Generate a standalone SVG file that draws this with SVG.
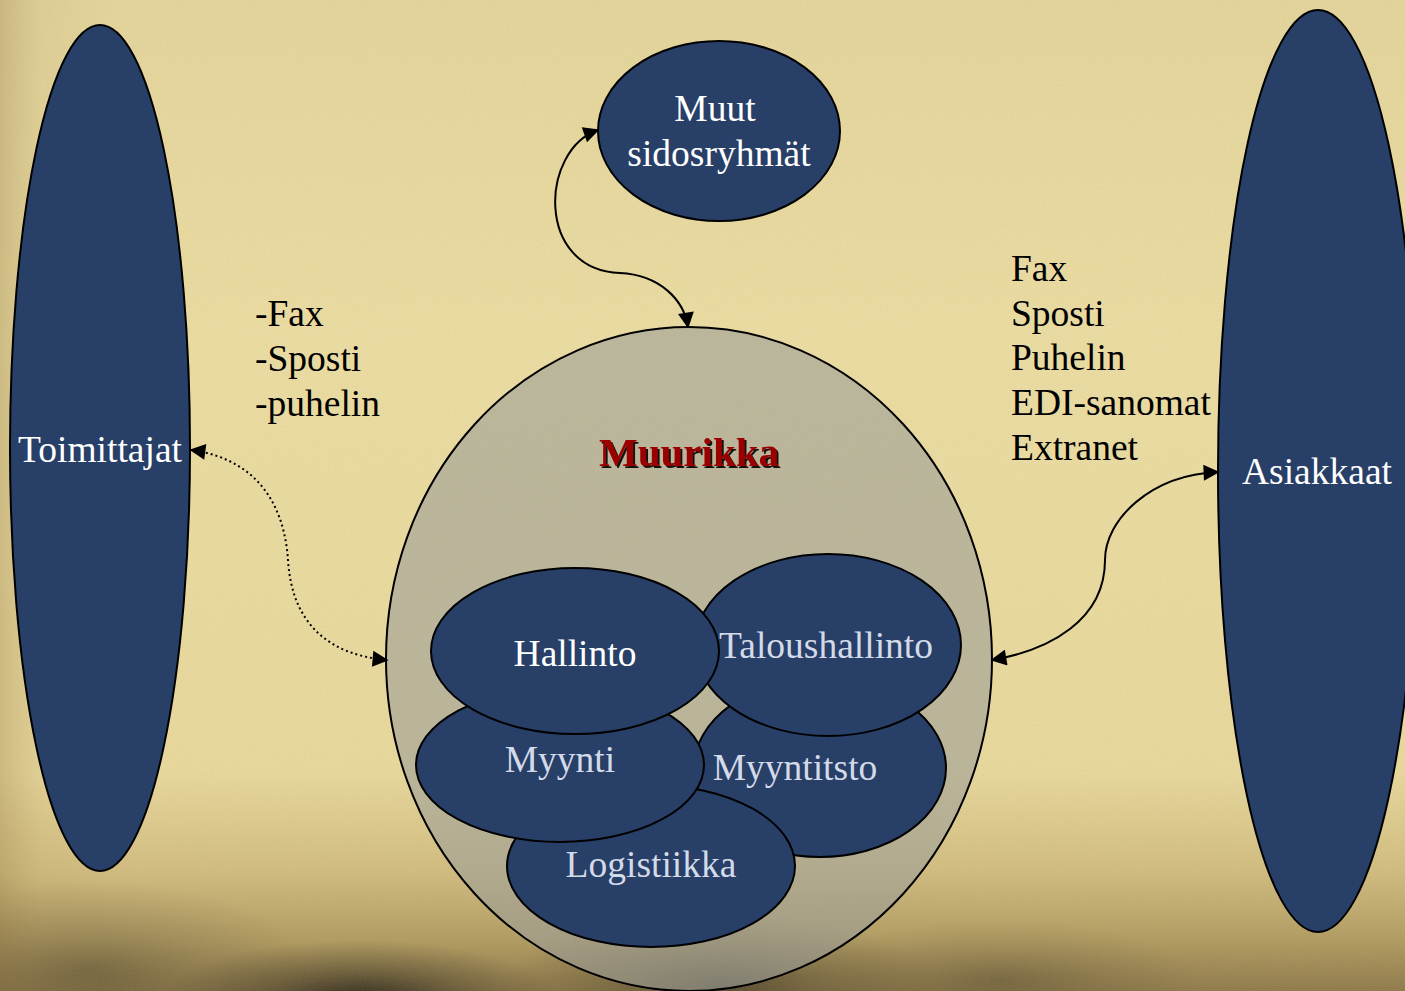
<svg xmlns="http://www.w3.org/2000/svg" width="1405" height="991" viewBox="0 0 1405 991">
<defs>
<style>
.node{fill:#283f68;stroke:#000;stroke-width:2}
.wt{font-family:"Liberation Serif","Times New Roman",serif;font-size:37.5px;fill:#fff;text-anchor:middle}
.lt{font-family:"Liberation Serif","Times New Roman",serif;font-size:37.5px;fill:#d3dae8;text-anchor:middle}
.bt{font-family:"Liberation Serif","Times New Roman",serif;font-size:37.5px;fill:#000}
.con{fill:none;stroke:#000;stroke-width:2}
</style>
<marker id="ah2" viewBox="0 0 10 10" refX="9" refY="5" markerWidth="18" markerHeight="16" markerUnits="userSpaceOnUse" orient="auto-start-reverse">
<path d="M0,0 L10,5 L0,10 Z" fill="#000"/>
</marker>
<linearGradient id="bgv" x1="0" y1="0" x2="0" y2="1">
<stop offset="0" stop-color="#e6d79e"/>
<stop offset="0.35" stop-color="#eddfa4"/>
<stop offset="0.78" stop-color="#ebdb9f"/>
<stop offset="0.88" stop-color="#d2bd80"/>
<stop offset="0.95" stop-color="#b09a60"/>
<stop offset="1" stop-color="#8d7849"/>
</linearGradient>
<linearGradient id="bgh" x1="0" y1="0" x2="1" y2="0">
<stop offset="0" stop-color="#8a6f3a" stop-opacity="0.3"/>
<stop offset="0.03" stop-color="#a88d52" stop-opacity="0.1"/>
<stop offset="0.08" stop-color="#a88d52" stop-opacity="0"/>
<stop offset="1" stop-color="#a88d52" stop-opacity="0"/>
</linearGradient>
<radialGradient id="smoke" cx="0.5" cy="0.5" r="0.5">
<stop offset="0" stop-color="#1c1812" stop-opacity="0.9"/>
<stop offset="0.5" stop-color="#2e281c" stop-opacity="0.4"/>
<stop offset="1" stop-color="#3a3020" stop-opacity="0"/>
</radialGradient>
<filter id="grain" x="0" y="0" width="100%" height="100%">
<feTurbulence type="fractalNoise" baseFrequency="0.7" numOctaves="2" seed="3"/>
<feColorMatrix type="matrix" values="0 0 0 0 0.45  0 0 0 0 0.38  0 0 0 0 0.2  0 0 0 0.18 0"/>
</filter>
<filter id="shadow" x="-10%" y="-20%" width="130%" height="150%">
<feDropShadow dx="2" dy="2" stdDeviation="0.4" flood-color="#000" flood-opacity="0.9"/>
</filter>
</defs>
<g id="background">
<rect width="1405" height="991" fill="url(#bgv)"/>
<rect width="1405" height="991" fill="url(#bgh)"/>
<ellipse cx="90" cy="970" rx="220" ry="90" fill="url(#smoke)" opacity="0.35"/>
<ellipse cx="360" cy="1000" rx="200" ry="60" fill="url(#smoke)"/>
<ellipse cx="720" cy="985" rx="220" ry="70" fill="url(#smoke)" opacity="0.6"/>
<ellipse cx="1000" cy="980" rx="200" ry="60" fill="url(#smoke)" opacity="0.3"/>
<rect width="1405" height="991" filter="url(#grain)"/>
</g>
<g id="node-toimittajat">
<ellipse class="node" cx="100" cy="448" rx="90" ry="423"/>
<text class="wt" x="100" y="462">Toimittajat</text>
</g>
<g id="node-asiakkaat">
<ellipse class="node" cx="1318" cy="471" rx="100" ry="461"/>
<text class="wt" x="1317" y="484">Asiakkaat</text>
</g>
<g id="node-muut">
<ellipse class="node" cx="719" cy="131" rx="121" ry="90"/>
<text class="wt" x="715" y="121">Muut</text>
<text class="wt" x="719" y="166">sidosryhmät</text>
</g>
<g id="node-muurikka">
<ellipse cx="689" cy="659" rx="303" ry="332" fill="#9d9e98" fill-opacity="0.6" stroke="#000" stroke-width="2"/>
<text x="689" y="466" font-family="'Liberation Serif','Times New Roman',serif" font-size="41" font-weight="bold" fill="#9a0000" text-anchor="middle" filter="url(#shadow)">Muurikka</text>
</g>
<g id="node-myyntitsto">
<ellipse class="node" cx="820" cy="768" rx="126" ry="89"/>
<text class="lt" x="795" y="780">Myyntitsto</text>
</g>
<g id="node-logistiikka">
<ellipse class="node" cx="651" cy="866" rx="144" ry="81"/>
<text class="lt" x="651" y="877">Logistiikka</text>
</g>
<g id="node-myynti">
<ellipse class="node" cx="560" cy="765" rx="144" ry="77"/>
<text class="lt" x="560" y="772">Myynti</text>
</g>
<g id="node-taloushallinto">
<ellipse class="node" cx="828" cy="645" rx="133" ry="91"/>
<text class="lt" x="826" y="658">Taloushallinto</text>
</g>
<g id="node-hallinto">
<ellipse class="node" cx="575" cy="651" rx="144" ry="83"/>
<text class="wt" x="575" y="666">Hallinto</text>
</g>
<g id="labels">
<text class="bt" x="255" y="326">-Fax</text>
<text class="bt" x="255" y="371">-Sposti</text>
<text class="bt" x="255" y="416">-puhelin</text>
<text class="bt" x="1011" y="281">Fax</text>
<text class="bt" x="1011" y="326">Sposti</text>
<text class="bt" x="1011" y="370">Puhelin</text>
<text class="bt" x="1011" y="415">EDI-sanomat</text>
<text class="bt" x="1011" y="460">Extranet</text>
</g>
<g id="connectors">
<path class="con" d="M598,130 C540,150 535,270 620,273 C660,275 684,300 688,327" marker-start="url(#ah2)" marker-end="url(#ah2)"/>
<path class="con" d="M191,450 C265,460 285,515 288,560 C292,625 330,655 387,660" stroke-dasharray="2,3" stroke-width="1.8" marker-start="url(#ah2)" marker-end="url(#ah2)"/>
<path class="con" d="M1218,472 C1150,475 1105,520 1105,560 C1105,620 1050,650 992,660" marker-start="url(#ah2)" marker-end="url(#ah2)"/>
</g>
</svg>
